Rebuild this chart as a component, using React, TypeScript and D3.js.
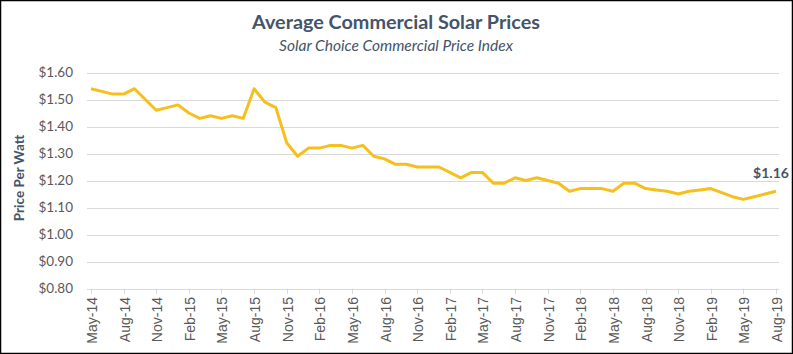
import * as d3 from "d3";

const months = [
  "May-14", "Jun-14", "Jul-14", "Aug-14", "Sep-14", "Oct-14", "Nov-14", "Dec-14",
  "Jan-15", "Feb-15", "Mar-15", "Apr-15", "May-15", "Jun-15", "Jul-15", "Aug-15",
  "Sep-15", "Oct-15", "Nov-15", "Dec-15", "Jan-16", "Feb-16", "Mar-16", "Apr-16",
  "May-16", "Jun-16", "Jul-16", "Aug-16", "Sep-16", "Oct-16", "Nov-16", "Dec-16",
  "Jan-17", "Feb-17", "Mar-17", "Apr-17", "May-17", "Jun-17", "Jul-17", "Aug-17",
  "Sep-17", "Oct-17", "Nov-17", "Dec-17", "Jan-18", "Feb-18", "Mar-18", "Apr-18",
  "May-18", "Jun-18", "Jul-18", "Aug-18", "Sep-18", "Oct-18", "Nov-18", "Dec-18",
  "Jan-19", "Feb-19", "Mar-19", "Apr-19", "May-19", "Jun-19", "Jul-19", "Aug-19",
];

const prices = [
  1.54, 1.53, 1.52, 1.52, 1.54, 1.50, 1.46, 1.47, 1.48, 1.45, 1.43, 1.44, 1.43, 1.44, 1.43, 1.54,
  1.49, 1.47, 1.34, 1.29, 1.32, 1.32, 1.33, 1.33, 1.32, 1.33, 1.29, 1.28, 1.26, 1.26, 1.25, 1.25,
  1.25, 1.23, 1.21, 1.23, 1.23, 1.19, 1.19, 1.21, 1.20, 1.21, 1.20, 1.19, 1.16, 1.17, 1.17, 1.17,
  1.16, 1.19, 1.19, 1.17, 1.165, 1.16, 1.15, 1.16, 1.165, 1.17, 1.155, 1.14, 1.13, 1.14, 1.15, 1.16,
];

const tickLabels = [
  "May-14", "Aug-14", "Nov-14", "Feb-15", "May-15", "Aug-15", "Nov-15", "Feb-16",
  "May-16", "Aug-16", "Nov-16", "Feb-17", "May-17", "Aug-17", "Nov-17", "Feb-18",
  "May-18", "Aug-18", "Nov-18", "Feb-19", "May-19", "Aug-19",
];

const yTicks = [0.8, 0.9, 1.0, 1.1, 1.2, 1.3, 1.4, 1.5, 1.6];

const W = 793;
const H = 354;
const FONT = "Lato, 'Open Sans', sans-serif";

export default function App() {
  const x = d3.scalePoint<string>().domain(months).range([91, 776]);
  const y = d3.scaleLinear().domain([0.8, 1.6]).range([288.5, 72.5]);

  const line = d3.line<number>()
    .x((_, i) => x(months[i])!)
    .y(d => y(d));

  const lastIdx = prices.length - 1;
  const lastX = x(months[lastIdx])!;
  const lastY = y(prices[lastIdx]);

  return (
    <div style={{ position: "absolute", left: 0, top: 0 }}>
      <svg width={W} height={H} style={{ display: "block", background: "#fff" }}>
        <rect x={0.5} y={0.5} width={W - 1} height={H - 1} fill="#fff" stroke="#000" strokeWidth={1.5} />

        <text x={396} y={29} textAnchor="middle" fontFamily={FONT} fontWeight="bold" fontSize={19.8} fill="#44546a">
          Average Commercial Solar Prices
        </text>
        <text x={396} y={51} textAnchor="middle" fontFamily={FONT} fontStyle="italic" fontSize={15.5} fill="#44546a">
          Solar Choice Commercial Price Index
        </text>

        {/* grid + y ticks */}
        {yTicks.map(t => (
          <g key={t}>
            <line x1={87} x2={779} y1={Math.round(y(t)) + 0.5} y2={Math.round(y(t)) + 0.5} stroke="#d9d9d9" strokeWidth={1} />
            <text x={73} y={y(t) + 4.5} textAnchor="end" fontFamily={FONT} fontSize={13.5} fill="#595959">
              {`$${t.toFixed(2)}`}
            </text>
          </g>
        ))}

        <text
          transform={`translate(24,178) rotate(-90)`}
          textAnchor="middle"
          fontFamily={FONT}
          fontWeight="bold"
          fontSize={13.5}
          fill="#44546a"
        >
          Price Per Watt
        </text>

        {/* x ticks */}
        {tickLabels.map(lbl => {
          const px = Math.round(x(lbl)!) + 0.5;
          return (
            <g key={lbl}>
              <line x1={px} x2={px} y1={288.5} y2={294} stroke="#d9d9d9" />
              <text
                transform={`translate(${px + 5},${297}) rotate(-90)`}
                textAnchor="end"
                fontFamily="'Liberation Sans', Arial, sans-serif"
                fontSize={14}
                fill="#595959"
              >
                {lbl}
              </text>
            </g>
          );
        })}

        <path d={line(prices) ?? ""} fill="none" stroke="#f5bf1d" strokeWidth={3} strokeLinejoin="round" />

        <text x={lastX - 5} y={lastY - 13} textAnchor="middle" fontFamily={FONT} fontWeight="bold" fontSize={14} fill="#44546a">
          {`$${prices[lastIdx].toFixed(2)}`}
        </text>
      </svg>
    </div>
  );
}
